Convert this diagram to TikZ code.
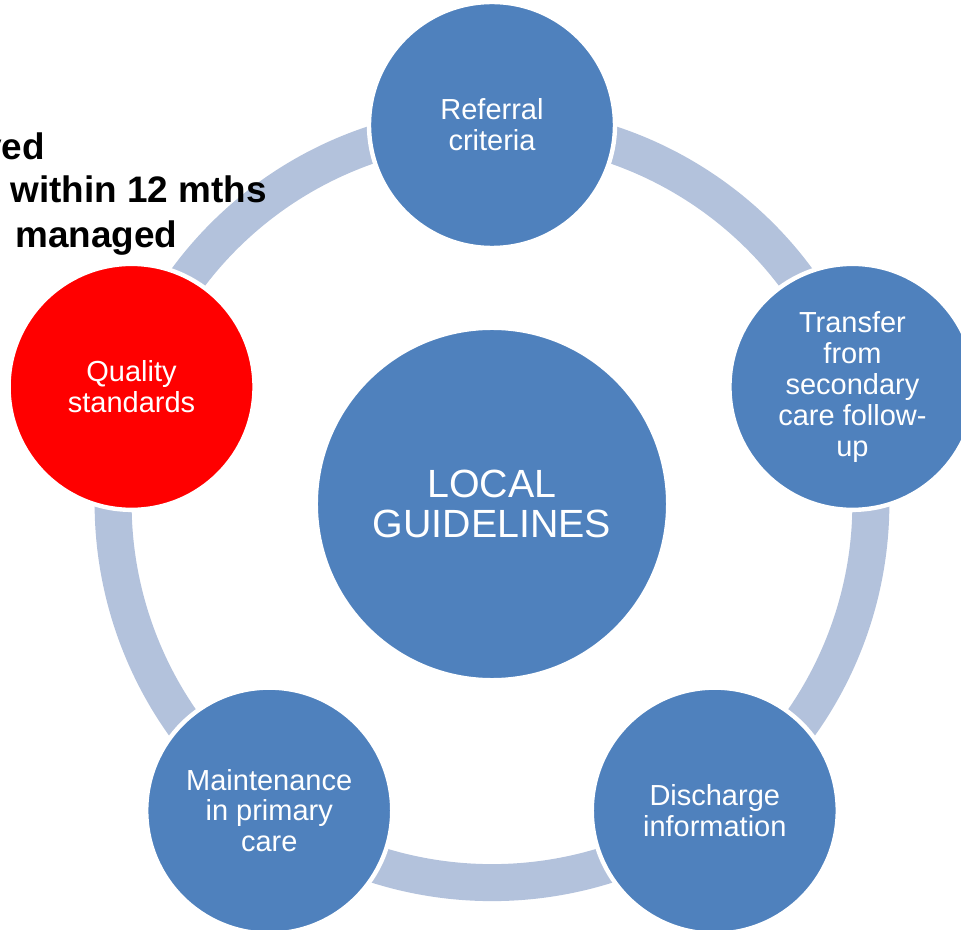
\documentclass[tikz,border=0pt]{standalone}
\usepackage{fontspec}
\setmainfont{Liberation Sans}
\usetikzlibrary{backgrounds}
\definecolor{cycleblue}{RGB}{79,129,189}
\definecolor{ringblue}{RGB}{179,194,220}
\begin{document}
\begin{tikzpicture}[x=0.02cm, y=0.02cm]
      \useasboundingbox (-492,-426) rectangle (469,504);
      \clip (-492,-426) rectangle (469,504);
      \begin{scope}[every node/.style={circle,fill=cycleblue,draw=white,line width=2.5pt,
          text=white,align=center,inner sep=0pt,minimum size=4.92cm,
          font=\fontsize{16.5}{17.6}\selectfont}]
        \node (hub) at (0,0) [minimum size=7.05cm,font=\fontsize{22.4}{23}\selectfont] {LOCAL\\GUIDELINES};
        \node (ref) at (90:379) {Referral\\criteria};
        \node (tra) at (18:379) {Transfer\\from\\secondary\\care follow-\\up};
        \node (dis) at (-54:379) {Discharge\\information};
        \node (mai) at (234:379) {Maintenance\\in primary\\care};
        \node (qua) at (162:379) [fill=red] {Quality\\standards};
      \end{scope}
      \begin{scope}[on background layer,
        every edge/.style={draw=ringblue, line width=0.74cm}]
        \path (ref.center) edge[bend left=36, looseness=0.94] (tra.center);
        \path (tra.center) edge[bend left=36, looseness=0.94] (dis.center);
        \path (dis.center) edge[bend left=36, looseness=0.94] (mai.center);
        \path (mai.center) edge[bend left=36, looseness=0.94] (qua.center);
        \path (qua.center) edge[bend left=36, looseness=0.94] (ref.center);
      \end{scope}
      \begin{scope}[every node/.style={inner sep=0pt,font=\fontsize{21}{26.4}\bfseries\selectfont}]
        \node (ln1) at (-447,344) [anchor=base east] {ved};
        \node (ln2) at (-482,301) [anchor=base west] {within 12 mths};
        \node (ln3) at (-477,256) [anchor=base west] {managed};
      \end{scope}
    \end{tikzpicture}
\end{document}
